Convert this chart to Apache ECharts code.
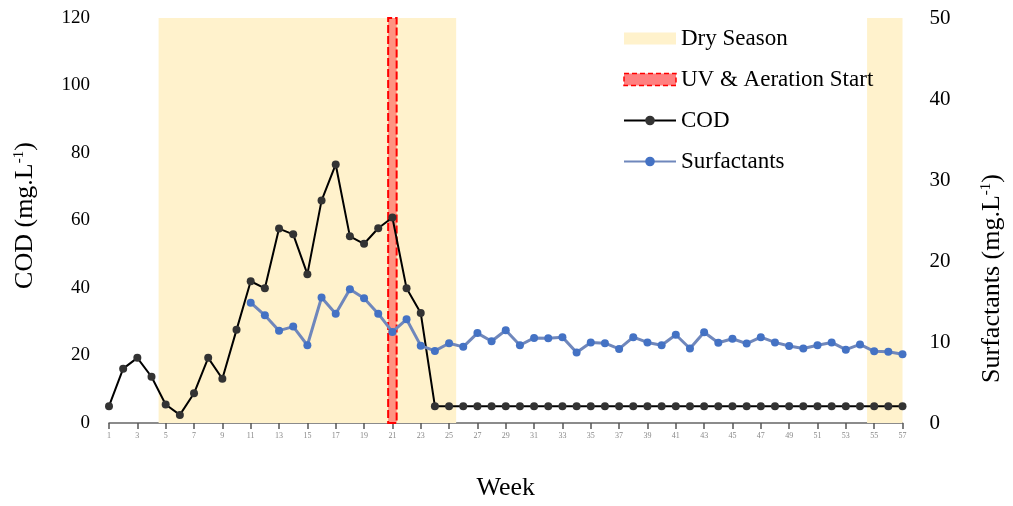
<!DOCTYPE html>
<html>
<head>
<meta charset="utf-8">
<script src="https://cdn.jsdelivr.net/npm/echarts@6/dist/echarts.min.js"></script>
<style>
  html, body { margin: 0; padding: 0; background: #fff; overflow: hidden; width: 100%; height: 100%; }
  #chart { position: absolute; left: 0; top: 0; width: 1013px; height: 506px; }
</style>
</head>
<body>
<div id="chart"></div>
<script>
// ---- data ----
const weeks = ['1','2','3','4','5','6','7','8','9','10','11','12','13','14','15','16','17','18','19','20',
  '21','22','23','24','25','26','27','28','29','30','31','32','33','34','35','36','37','38','39','40',
  '41','42','43','44','45','46','47','48','49','50','51','52','53','54','55','56','57'];
const cod = [
  5, 16.1, 19.3, 13.7, 5.5, 2.4, 8.8, 19.3, 13.1, 27.6,
  42.0, 39.9, 57.6, 55.9, 44.1, 65.9, 76.6, 55.3, 53.1, 57.7,
  60.9, 39.9, 32.6, 5, 5, 5, 5, 5, 5, 5,
  5, 5, 5, 5, 5, 5, 5, 5, 5, 5,
  5, 5, 5, 5, 5, 5, 5, 5, 5, 5,
  5, 5, 5, 5, 5, 5, 5];
const surfactants = [
  null, null, null, null, null, null, null, null, null, null,
  14.85, 13.3, 11.4, 11.9, 9.6, 15.5, 13.5, 16.5, 15.4, 13.5,
  11.25, 12.8, 9.55, 8.9, 9.85, 9.4, 11.1, 10.1, 11.45, 9.6,
  10.5, 10.45, 10.6, 8.7, 9.95, 9.85, 9.15, 10.6, 9.95, 9.6,
  10.9, 9.2, 11.2, 9.9, 10.4, 9.8, 10.6, 9.95, 9.5, 9.2,
  9.6, 9.95, 9.05, 9.7, 8.85, 8.8, 8.5];
// dry-season periods and treatment start, in week-index units (0 = first week)
const drySeasons = [[3.5, 24.5], [53.5, 56]];
const uvStart = [19.7, 20.3];

const serif = 'Liberation Serif, Times New Roman, serif';

const chart = echarts.init(document.getElementById('chart'), null, { renderer: 'canvas', width: 1013, height: 506 });
chart.setOption({
  animation: false,
  backgroundColor: '#fff',
  textStyle: { fontFamily: serif },
  grid: { left: 109, right: 107, top: 18, bottom: 76, containLabel: false },
  legend: {
    orient: 'vertical',
    left: 623,
    top: 27,
    padding: 0,
    itemWidth: 52,
    itemHeight: 12,
    itemGap: 18,
    textStyle: { fontFamily: serif, fontSize: 23, color: '#000', lineHeight: 23 },
    data: [
      { name: 'Dry Season', icon: 'rect', itemStyle: { color: '#FFF2CC', borderWidth: 0 } },
      { name: 'UV & Aeration Start', icon: 'rect',
        itemStyle: { color: '#FF8080', borderColor: '#FF0000', borderWidth: 1.5, borderType: [5, 3] } },
      { name: 'COD' },
      { name: 'Surfactants' }
    ]
  },
  xAxis: [
    {
      type: 'category',
      data: weeks,
      boundaryGap: false,
      name: 'Week',
      nameLocation: 'middle',
      nameGap: 52,
      nameTextStyle: { fontFamily: serif, fontSize: 26, color: '#000' },
      axisLine: { lineStyle: { color: '#666', width: 1.5 } },
      axisTick: { interval: 1, length: 6, lineStyle: { color: '#555', width: 1.5 } },
      axisLabel: { interval: 1, fontSize: 8, color: '#888', margin: 9 },
      splitLine: { show: false }
    },
    { type: 'value', min: 0, max: 56, show: false }
  ],
  yAxis: [
    {
      type: 'value', min: 0, max: 120, interval: 20,
      name: '{a|COD (mg.L}{s|-1}{a|)}',
      nameLocation: 'middle', nameRotate: 90, nameGap: 70,
      nameTextStyle: {
        padding: [0, 0, 0, 10],
        rich: {
          a: { fontFamily: serif, fontSize: 26, color: '#000' },
          s: { fontFamily: serif, fontSize: 15, color: '#000', verticalAlign: 'top', padding: [0, 0, 12, 0] }
        }
      },
      axisLine: { show: false }, axisTick: { show: false }, splitLine: { show: false },
      axisLabel: { fontFamily: serif, fontSize: 19, color: '#000', margin: 19 }
    },
    {
      type: 'value', min: 0, max: 50, interval: 10,
      name: '{a|Surfactants (mg.L}{s|-1}{a|)}',
      nameLocation: 'middle', nameRotate: 90, nameGap: 76,
      nameTextStyle: {
        padding: [0, 116, 0, 0],
        rich: {
          a: { fontFamily: serif, fontSize: 26, color: '#000' },
          s: { fontFamily: serif, fontSize: 15, color: '#000', verticalAlign: 'top', padding: [0, 0, 12, 0] }
        }
      },
      axisLine: { show: false }, axisTick: { show: false }, splitLine: { show: false },
      axisLabel: { fontFamily: serif, fontSize: 21, color: '#000', margin: 27 }
    }
  ],
  series: [
    {
      name: 'Dry Season', type: 'line', xAxisIndex: 1, yAxisIndex: 0, data: [],
      itemStyle: { color: '#FFF2CC' },
      markArea: {
        silent: true,
        itemStyle: { color: '#FFF2CC' },
        data: drySeasons.map(d => [{ xAxis: d[0] }, { xAxis: d[1] }])
      }
    },
    {
      name: 'UV & Aeration Start', type: 'line', xAxisIndex: 1, yAxisIndex: 0, data: [],
      itemStyle: { color: '#FF8080' },
      z: 3,
      markArea: {
        silent: true,
        itemStyle: { color: 'rgba(255,70,70,0.55)', borderColor: '#FF0000', borderWidth: 2, borderType: [8, 3] },
        data: [[{ xAxis: uvStart[0] }, { xAxis: uvStart[1] }]]
      }
    },
    {
      name: 'COD', type: 'line', xAxisIndex: 0, yAxisIndex: 0, data: cod,
      symbol: 'circle', symbolSize: 8, z: 5,
      lineStyle: { color: '#000', width: 2 },
      itemStyle: { color: '#333' }
    },
    {
      name: 'Surfactants', type: 'line', xAxisIndex: 0, yAxisIndex: 1, data: surfactants,
      symbol: 'circle', symbolSize: 8, z: 6,
      lineStyle: { color: '#6F87BC', width: 3 },
      itemStyle: { color: '#4472C4' }
    }
  ]
});
</script>
</body>
</html>
